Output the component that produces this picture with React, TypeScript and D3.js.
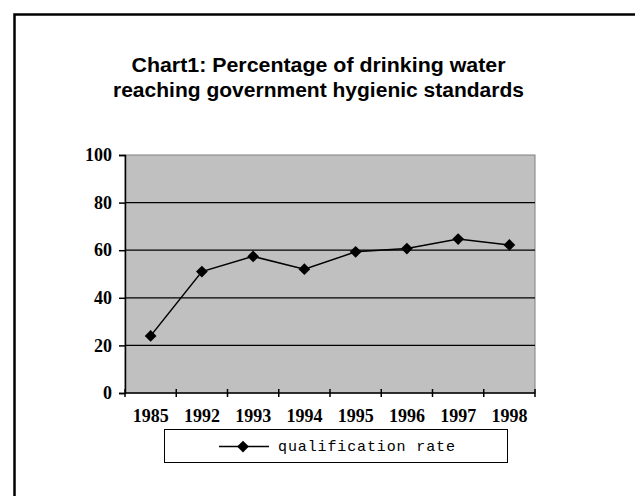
import React, { useRef, useEffect } from 'react';
import * as d3 from 'd3';

const years = ['1985', '1992', '1993', '1994', '1995', '1996', '1997', '1998'];
const rates = [24, 51, 57.4, 52, 59.3, 60.7, 64.7, 62.2];
const yTicks = [0, 20, 40, 60, 80, 100];
const titleLines = ['Chart1: Percentage of drinking water', 'reaching government hygienic standards'];
const seriesName = 'qualification rate';

const App: React.FC = () => {
  const ref = useRef<SVGSVGElement>(null);

  useEffect(() => {
    if (!ref.current) return;
    const svg = d3.select(ref.current);
    svg.selectAll('*').remove();

    const W = 635, H = 496;
    const plot = { left: 125, right: 535, top: 155, bottom: 393 };

    // outer frame (runs off the right and bottom)
    svg.append('rect')
      .attr('x', 14.5).attr('y', 14.5)
      .attr('width', W + 20).attr('height', H + 20)
      .attr('fill', '#fff').attr('stroke', '#000').attr('stroke-width', 2.5);

    // title
    const titleWidths = [374, 411];
    svg.append('g').selectAll('text')
      .data(titleLines)
      .enter().append('text')
      .attr('x', 318.5)
      .attr('y', (_, i) => 72 + i * 25)
      .attr('text-anchor', 'middle')
      .attr('textLength', (_, i) => titleWidths[i])
      .attr('lengthAdjust', 'spacingAndGlyphs')
      .style('font-family', '"Liberation Sans", Arial, sans-serif')
      .style('font-weight', 'bold')
      .style('font-size', '19.5px')
      .text(d => d);

    const x = d3.scaleBand().domain(years).range([plot.left, plot.right]).padding(0);
    const y = d3.scaleLinear().domain([0, 100]).range([plot.bottom, plot.top]);

    // plot area
    svg.append('rect')
      .attr('x', plot.left).attr('y', plot.top)
      .attr('width', plot.right - plot.left).attr('height', plot.bottom - plot.top)
      .attr('fill', '#c0c0c0').attr('stroke', '#808080').attr('stroke-width', 1);

    // gridlines
    svg.append('g').selectAll('line')
      .data(yTicks.filter(t => t > 0 && t < 100))
      .enter().append('line')
      .attr('x1', plot.left).attr('x2', plot.right)
      .attr('y1', d => y(d)).attr('y2', d => y(d))
      .attr('stroke', '#000').attr('stroke-width', 1.3);

    const tickFont = (sel: any) => sel
      .style('font-family', '"Liberation Serif", "Times New Roman", serif')
      .style('font-weight', 'bold')
      .style('font-size', '18px')
      .attr('fill', '#000');

    // y axis
    const yAxis = svg.append('g')
      .attr('transform', `translate(${plot.left},0)`)
      .call(d3.axisLeft(y).tickValues(yTicks).tickSize(6).tickPadding(7));
    yAxis.select('.domain').attr('stroke', '#000').attr('stroke-width', 1.5);
    yAxis.selectAll('.tick line').attr('stroke', '#000').attr('stroke-width', 1.5);
    yAxis.selectAll('text').call(tickFont);

    // x axis
    const bounds = years.map(d => (x(d) || 0)).concat([plot.right]);
    const xAxis = svg.append('g').attr('transform', `translate(0,${plot.bottom})`);
    xAxis.append('line')
      .attr('x1', plot.left).attr('x2', plot.right)
      .attr('stroke', '#000').attr('stroke-width', 1.5);
    xAxis.selectAll('.xt')
      .data(bounds)
      .enter().append('line')
      .attr('class', 'xt')
      .attr('x1', d => d).attr('x2', d => d)
      .attr('y1', -4).attr('y2', 4)
      .attr('stroke', '#000').attr('stroke-width', 1.5);
    xAxis.selectAll('text')
      .data(years)
      .enter().append('text')
      .attr('x', d => (x(d) || 0) + x.bandwidth() / 2)
      .attr('y', 29)
      .attr('text-anchor', 'middle')
      .call(tickFont)
      .text(d => d);

    // series
    const pts = years.map((d, i) => [(x(d) || 0) + x.bandwidth() / 2, y(rates[i])] as [number, number]);
    svg.append('path')
      .attr('d', d3.line()(pts))
      .attr('fill', 'none').attr('stroke', '#000').attr('stroke-width', 1.5);
    const diamond = d3.symbol().type(d3.symbolDiamond2).size(88);
    svg.append('g').selectAll('path')
      .data(pts)
      .enter().append('path')
      .attr('transform', d => `translate(${d[0]},${d[1]})`)
      .attr('d', diamond())
      .attr('fill', '#000');

    // legend
    const lg = svg.append('g');
    lg.append('rect')
      .attr('x', 164.5).attr('y', 429.5).attr('width', 343).attr('height', 33)
      .attr('fill', '#fff').attr('stroke', '#000').attr('stroke-width', 1);
    lg.append('line')
      .attr('x1', 219).attr('x2', 269).attr('y1', 446.5).attr('y2', 446.5)
      .attr('stroke', '#000').attr('stroke-width', 1.5);
    lg.append('path')
      .attr('transform', 'translate(243,446.5)')
      .attr('d', diamond())
      .attr('fill', '#000');
    lg.append('text')
      .attr('x', 278).attr('y', 451)
      .attr('textLength', 177)
      .style('font-family', '"Liberation Mono", "Courier New", monospace')
      .style('font-size', '15px')
      .text(seriesName);
  }, []);

  return (
    <svg ref={ref} width={635} height={496}
      style={{ position: 'absolute', left: 0, top: 0, background: '#fff' }} />
  );
};

export default App;
